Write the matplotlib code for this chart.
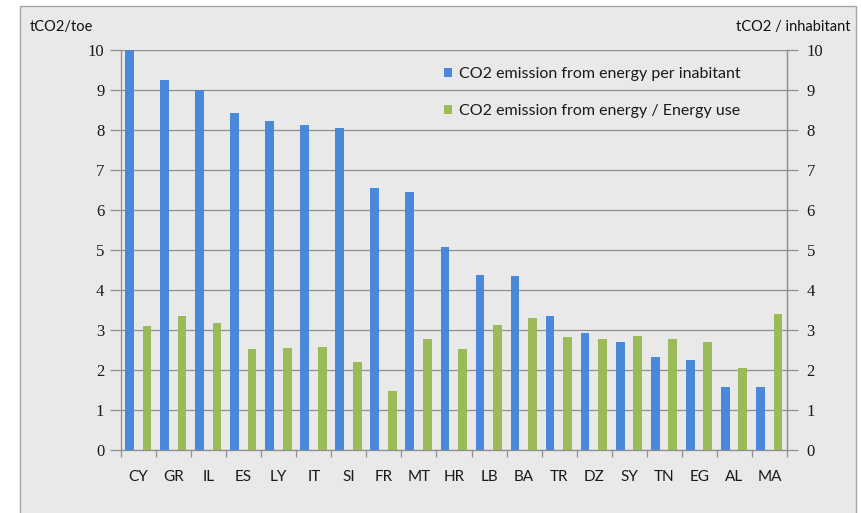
import matplotlib
matplotlib.use("Agg")
import matplotlib.pyplot as plt
from matplotlib.patches import Rectangle, Patch
import numpy as np

countries = ["CY", "GR", "IL", "ES", "LY", "IT", "SI", "FR", "MT", "HR",
             "LB", "BA", "TR", "DZ", "SY", "TN", "EG", "AL", "MA"]
per_inhabitant = [10.0, 9.26, 9.0, 8.43, 8.23, 8.13, 8.06, 6.55, 6.45, 5.07,
                  4.37, 4.35, 3.33, 2.91, 2.68, 2.31, 2.24, 1.57, 1.57]
per_energy_use = [3.09, 3.33, 3.17, 2.52, 2.55, 2.57, 2.18, 1.46, 2.76, 2.52,
                  3.12, 3.30, 2.81, 2.76, 2.84, 2.76, 2.68, 2.03, 3.39]
y_ticks = list(range(0, 11))
label_inhabitant = "CO2 emission from energy per inabitant"
label_energy = "CO2 emission from energy / Energy use"

BLUE = "#4a88d9"
GREEN = "#9bbb59"
GRID = "#8e8e8e"
BG = "#e9e9e9"

W, H = 861, 513
fig = plt.figure(figsize=(W / 100, H / 100), dpi=100, facecolor="white")

# outer chart frame, drawn beneath everything else
frame = Rectangle((20 / W, -0.05), (856 - 20) / W, 1.05 - 6 / H,
                  transform=fig.transFigure, facecolor=BG,
                  edgecolor="#a6a6a6", linewidth=1.0, zorder=-10)
fig.add_artist(frame)

left, right = 121 / W, 787 / W
top, bottom = 1 - 50 / H, 1 - 449.5 / H
ax = fig.add_axes([left, bottom, right - left, top - bottom])
ax.set_facecolor("none")

n = len(countries)
x = np.arange(n)
bw = 0.25
ax.bar(x + 0.24, per_inhabitant, width=bw, color=BLUE, zorder=3)
ax.bar(x + 0.74, per_energy_use, width=bw, color=GREEN, zorder=3)

ax.set_xlim(0, n)
ax.set_ylim(0, 10)
ax.set_yticks(y_ticks)
ax.yaxis.grid(True, color=GRID, linewidth=0.9)
ax.set_axisbelow(True)

ax.set_xticks(x + 0.5)
ax.set_xticklabels(countries, fontfamily="Lato", fontsize=11, color="#1a1a1a")
ax.set_xticks(np.arange(n + 1), minor=True)
ax.tick_params(axis="x", which="major", length=0, pad=15)
ax.tick_params(axis="x", which="minor", length=5, color=GRID, width=0.9)
ax.tick_params(axis="y", length=8, color=GRID, width=0.9, pad=4)
for lab in ax.get_yticklabels():
    lab.set_fontfamily("Liberation Serif")
    lab.set_fontsize(12)
    lab.set_color("#1a1a1a")

ax.spines["top"].set_visible(False)
for side in ["left", "right", "bottom"]:
    ax.spines[side].set_color(GRID)
    ax.spines[side].set_linewidth(0.9)

ax2 = ax.twinx()
ax2.set_ylim(0, 10)
ax2.set_yticks(y_ticks)
ax2.tick_params(axis="y", length=8, color=GRID, width=0.9, pad=6)
for lab in ax2.get_yticklabels():
    lab.set_fontfamily("Liberation Serif")
    lab.set_fontsize(12)
    lab.set_color("#1a1a1a")
for side in ["top", "left", "bottom"]:
    ax2.spines[side].set_visible(False)
ax2.spines["right"].set_color(GRID)
ax2.spines["right"].set_linewidth(0.9)

handles = [Patch(facecolor=BLUE, edgecolor="none", label=label_inhabitant),
           Patch(facecolor=GREEN, edgecolor="none", label=label_energy)]
leg = ax2.legend(handles=handles, loc="upper left",
                 bbox_to_anchor=(444 / W, 1 - 67 / H), bbox_transform=fig.transFigure,
                 frameon=False, prop={"family": "Lato", "size": 11.5},
                 handlelength=0.5, handleheight=0.5, handletextpad=0.45,
                 labelspacing=1.45, borderpad=0, borderaxespad=0)
for t in leg.get_texts():
    t.set_color("#1a1a1a")

fig.text(30 / W, 1 - 27 / H, "tCO2/toe", fontfamily="Lato", fontsize=10.5,
         ha="left", va="center", color="#111111")
fig.text(850 / W, 1 - 27 / H, "tCO2 / inhabitant", fontfamily="Lato", fontsize=10.5,
         ha="right", va="center", color="#111111")

fig.savefig("out.png", dpi=100, facecolor="white")
